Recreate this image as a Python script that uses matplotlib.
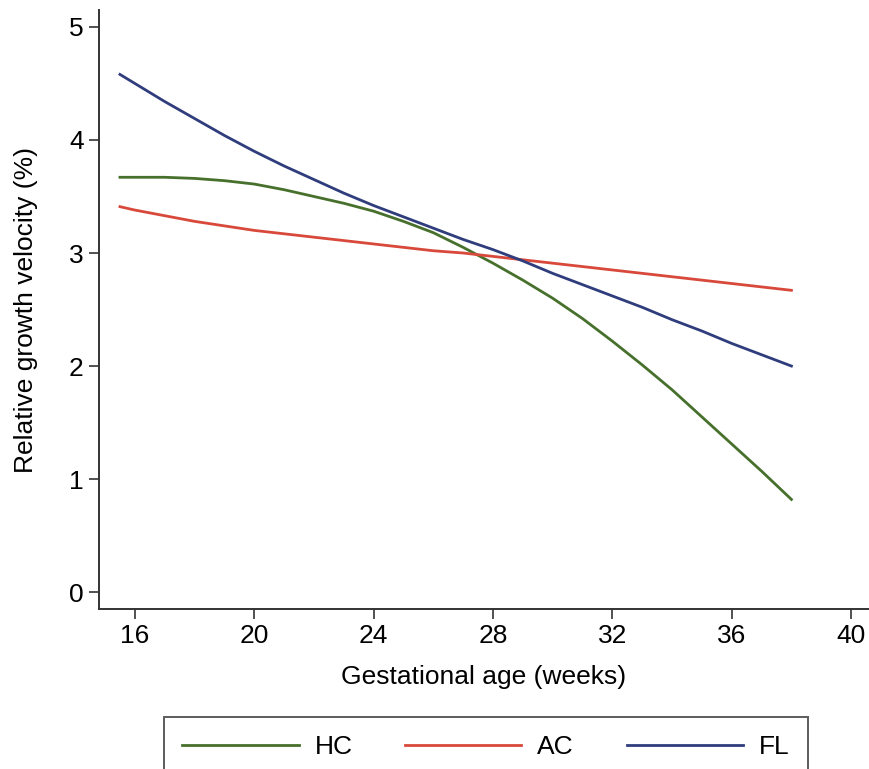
import matplotlib
matplotlib.use("Agg")
import matplotlib.pyplot as plt

plt.rcParams['font.family'] = ['Liberation Sans', 'DejaVu Sans']

# gestational age (weeks) and relative growth velocity (%)
weeks = [15.5, 16, 17, 18, 19, 20, 21, 22, 23, 24, 25, 26, 27, 28, 29, 30,
         31, 32, 33, 34, 35, 36, 37, 38]
hc = [3.67, 3.67, 3.67, 3.66, 3.64, 3.61, 3.56, 3.50, 3.44, 3.37, 3.28, 3.18,
      3.05, 2.91, 2.76, 2.60, 2.42, 2.22, 2.01, 1.79, 1.55, 1.31, 1.07, 0.82]
ac = [3.41, 3.38, 3.33, 3.28, 3.24, 3.20, 3.17, 3.14, 3.11, 3.08, 3.05, 3.02,
      3.00, 2.97, 2.94, 2.91, 2.88, 2.85, 2.82, 2.79, 2.76, 2.73, 2.70, 2.67]
fl = [4.58, 4.50, 4.34, 4.19, 4.04, 3.90, 3.77, 3.65, 3.53, 3.42, 3.32, 3.22,
      3.12, 3.03, 2.93, 2.82, 2.72, 2.62, 2.52, 2.41, 2.31, 2.20, 2.10, 2.00]

series = {'HC': hc, 'AC': ac, 'FL': fl}
colors = {'HC': '#46702c', 'AC': '#d8493b', 'FL': '#2f3d7d'}

xticks = [16, 20, 24, 28, 32, 36, 40]
yticks = [0, 1, 2, 3, 4, 5]

FS = 19

fig = plt.figure(figsize=(8.69, 7.69), dpi=100)
ax = fig.add_axes([0.114, 0.208, 0.886, 0.779])

for name, vals in series.items():
    ax.plot(weeks, vals, color=colors[name], lw=2.0, label=name)

ax.set_xlim(14.8, 40.6)
ax.set_ylim(-0.15, 5.15)
ax.set_xticks(xticks)
ax.set_yticks(yticks)

for side in ['top', 'right']:
    ax.spines[side].set_visible(False)
for side in ['left', 'bottom']:
    ax.spines[side].set_color('#333333')
    ax.spines[side].set_linewidth(1.4)

ax.tick_params(axis='both', direction='out', length=7, width=1.2,
               color='#333333', labelsize=FS, pad=4)

ax.set_xlabel('Gestational age (weeks)', fontsize=FS, labelpad=12)
ax.set_ylabel('Relative growth velocity (%)', fontsize=FS, labelpad=22)

# legend box runs off the bottom edge, as in the source figure
leg = fig.legend(loc='upper center', bbox_to_anchor=(0.559, 0.068),
                 ncol=3, fontsize=FS, frameon=True, fancybox=False,
                 handlelength=4.4, handletextpad=0.6, columnspacing=2.0,
                 borderpad=0.7, borderaxespad=0.0)
leg.get_frame().set_edgecolor('#333333')
leg.get_frame().set_linewidth(1.4)

fig.savefig('out.png', dpi=100)
